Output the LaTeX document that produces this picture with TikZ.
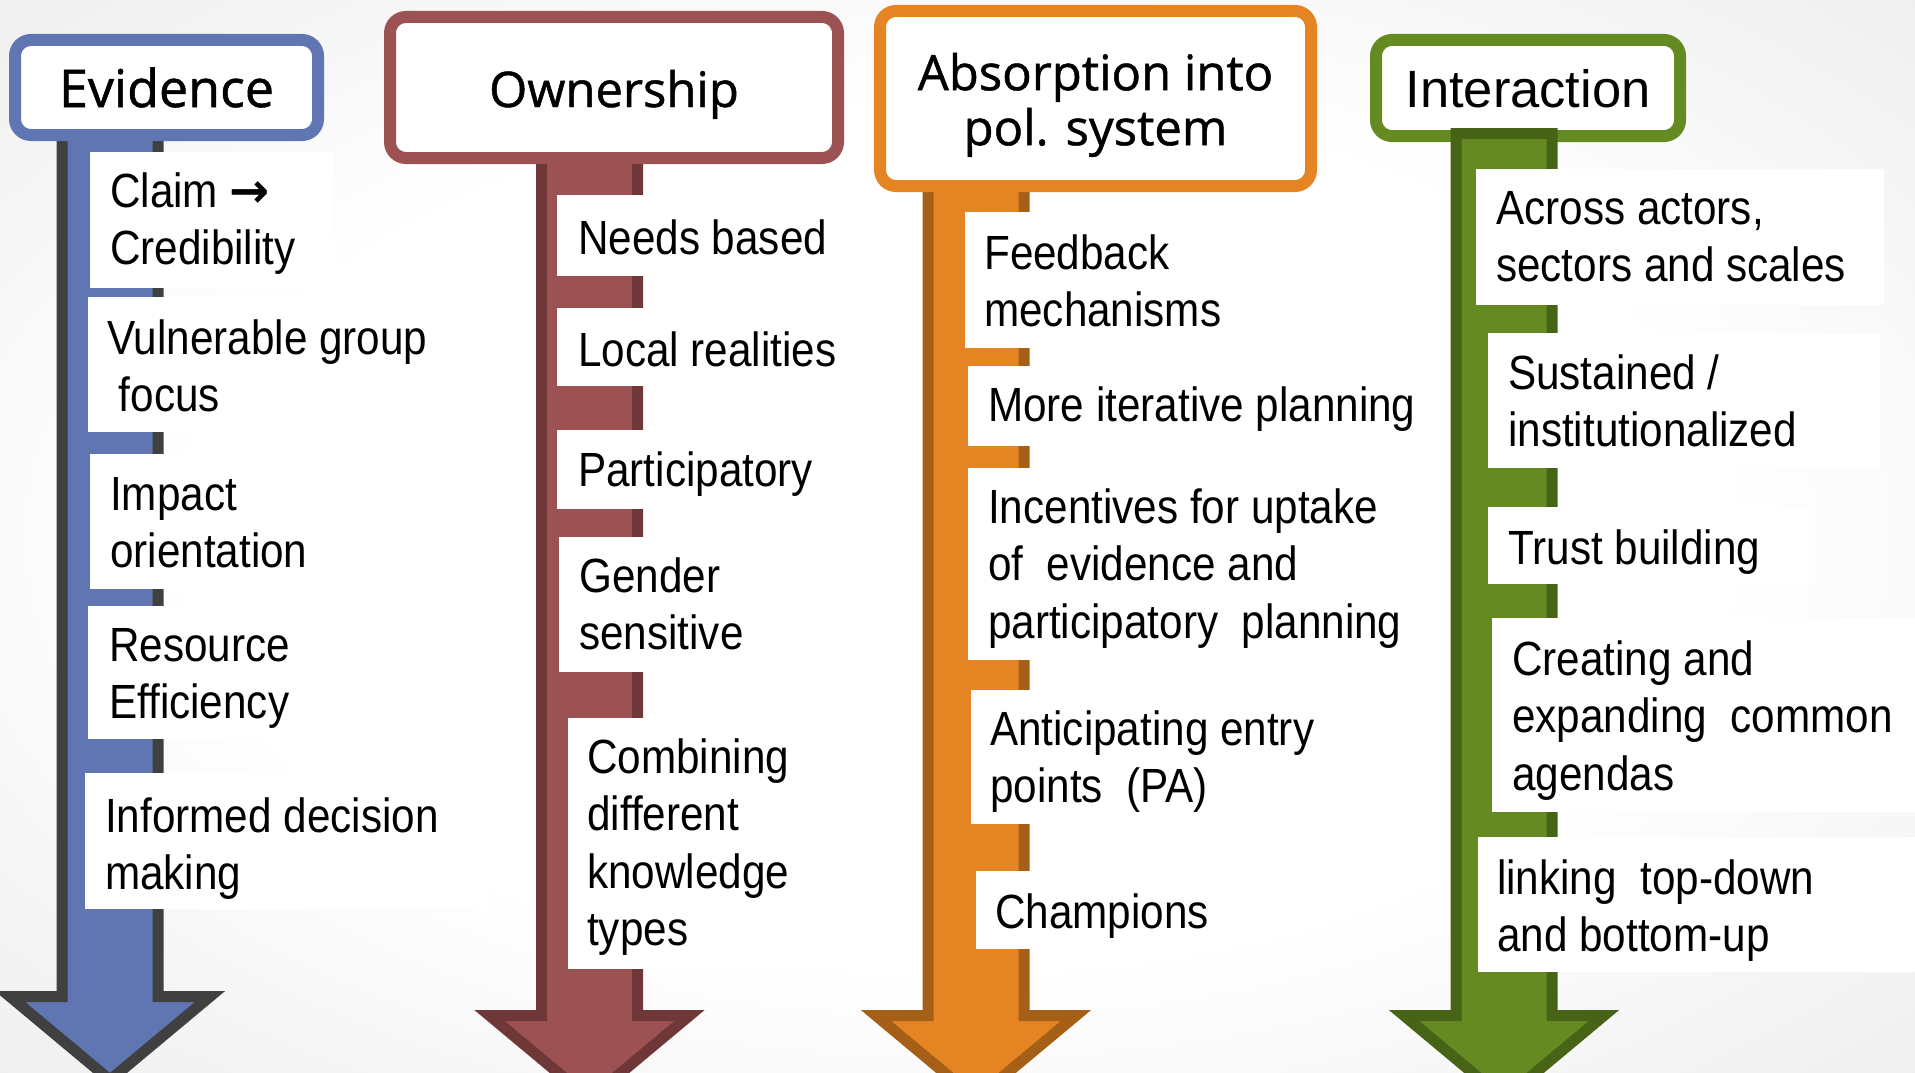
\documentclass[tikz,border=0pt]{standalone}
\usepackage{fontspec}
\setmainfont{Liberation Sans}
\newfontfamily\narrowfont[FakeStretch=0.88]{Liberation Sans}
\newfontfamily\headfont[FakeBold=1]{Open Sans}
\newfontfamily\headfontb{Liberation Sans}
\newfontfamily\arrowfont{DejaVu Sans}
\usetikzlibrary{calc}
\definecolor{evfill}{HTML}{5F76B3}
\definecolor{evline}{HTML}{404040}
\definecolor{owfill}{HTML}{9C5252}
\definecolor{owline}{HTML}{6F3737}
\definecolor{abfill}{HTML}{E58422}
\definecolor{abline}{HTML}{A65F17}
\definecolor{infill}{HTML}{668A22}
\definecolor{inline}{HTML}{476316}
\pgfdeclareradialshading{bgshade}{\pgfpoint{0bp}{0bp}}{color(0bp)=(white); color(20bp)=(white); color(50bp)=(black!12); color(72bp)=(black!22)}
\newcommand{\colarrow}[5]{%
  \draw[arrowstyle, fill=#4, draw=#5] (#1-48,#2) -- (#1-48,#3+5.5) -- (#1-100,#3+5.5) -- (#1,#3+89) -- (#1+100,#3+5.5) -- (#1+48,#3+5.5) -- (#1+48,#2) -- cycle;}
\begin{document}
\begin{tikzpicture}[x=1pt,y=-1pt,
  arrowstyle/.style={line width=11pt, line join=miter, miter limit=10},
  headbox/.style={rectangle, rounded corners=16pt, line width=12pt, fill=white, inner sep=0pt},
  headtext/.style={font=\headfont\fontsize{49}{55}\selectfont, inner sep=0pt, align=center},
  itembox/.style={rectangle, fill=white, draw=none, inner sep=0pt, anchor=north west},
  itemtext/.style={font=\narrowfont\fontsize{48}{57.5}\selectfont, inner sep=0pt, align=left, anchor=north west}]
\useasboundingbox (0,0) rectangle (1915,1073);
\clip (0,0) rectangle (1915,1073);
\shade[shading=bgshade] (0,0) rectangle (1915,1073);

% shafts behind header boxes
\colarrow{110}{120}{991}{evfill}{evline}
\colarrow{589.5}{150}{1010}{owfill}{owline}
\colarrow{976}{170}{1010}{abfill}{abline}

% header boxes
\node[headbox, draw=evfill, minimum width=303pt, minimum height=95pt] (hev) at (166.5,87.5) {};
\node[headbox, draw=owfill, minimum width=448pt, minimum height=141pt] (how) at (614,87.5) {};
\node[headbox, draw=abfill, minimum width=431pt, minimum height=175pt] (hab) at (1095.5,98.5) {};
\node[headbox, draw=infill, minimum width=304pt, minimum height=96pt] (hin) at (1528,88) {};

\node[headtext, anchor=base, font=\headfont\fontsize{52}{55}\selectfont] (tev) at (166.5,107) {Evidence};
\node[headtext, anchor=base] (tow) at (614,107) {Ownership};
\node[headtext, anchor=north] (tab) at (1095.5,51.5) {\strut Absorption into\\\strut pol. system};
\node[headtext, anchor=base, font=\headfontb\fontsize{52.5}{55}\selectfont] (tin) at (1528,107) {Interaction};

% interaction arrow on top of its box
\colarrow{1504}{133.5}{1010}{infill}{inline}

% Evidence items
\node[itembox, minimum width=243pt, minimum height=136pt] (e1) at (90,152) {};
\node[itemtext] (e1t) at (110,166.75) {\strut Claim {\arrowfont\bfseries →}\\\strut Credibility};
\node[itembox, minimum width=382pt, minimum height=135pt] (e2) at (88,297) {};
\node[itemtext] (e2t) at (107,313.75) {\strut Vulnerable group\\\strut\ focus};
\node[itembox, minimum width=245pt, minimum height=135pt] (e3) at (90,454) {};
\node[itemtext] (e3t) at (110,469.75) {\strut Impact\\\strut orientation};
\node[itembox, minimum width=312pt, minimum height=133pt] (e4) at (88,606) {};
\node[itemtext] (e4t) at (109,620.75) {\strut Resource\\\strut Efficiency};
\node[itembox, minimum width=405pt, minimum height=136pt] (e5) at (85,773) {};
\node[itemtext] (e5t) at (105,791.75) {\strut Informed decision\\\strut making};

% Ownership items
\node[itembox, minimum width=286pt, minimum height=81pt] (o1) at (557,195) {};
\node[itemtext] (o1t) at (578,213.75) {\strut Needs based};
\node[itembox, minimum width=303pt, minimum height=78pt] (o2) at (557,308) {};
\node[itemtext] (o2t) at (578,325.75) {\strut Local realities};
\node[itembox, minimum width=286pt, minimum height=79pt] (o3) at (557,430) {};
\node[itemtext] (o3t) at (578,445.75) {\strut Participatory};
\node[itembox, minimum width=223pt, minimum height=135pt] (o4) at (559,537) {};
\node[itemtext] (o4t) at (579,551.75) {\strut Gender\\\strut sensitive};
\node[itembox, minimum width=232pt, minimum height=251pt] (o5) at (568,718) {};
\node[itemtext] (o5t) at (587,732.75) {\strut Combining\\\strut different\\\strut knowledge\\\strut types};

% Absorption items
\node[itembox, minimum width=280pt, minimum height=136pt] (a1) at (965,212) {};
\node[itemtext] (a1t) at (984,228.75) {\strut Feedback\\\strut mechanisms};
\node[itembox, minimum width=457pt, minimum height=80pt] (a2) at (968,366) {};
\node[itemtext] (a2t) at (988,380.75) {\strut More iterative planning};
\node[itembox, minimum width=457pt, minimum height=192pt] (a3) at (968,468) {};
\node[itemtext] (a3t) at (988,482.75) {\strut Incentives for uptake\\\strut of\ \ evidence and\\\strut participatory\ \ planning};
\node[itembox, minimum width=374pt, minimum height=134pt] (a4) at (971,690) {};
\node[itemtext] (a4t) at (990,704.75) {\strut Anticipating entry\\\strut points\ \ (PA)};
\node[itembox, minimum width=249pt, minimum height=78pt] (a5) at (976,871) {};
\node[itemtext] (a5t) at (995,887.75) {\strut Champions};

% Interaction items
\node[itembox, minimum width=408pt, minimum height=136pt] (i1) at (1476,169) {};
\node[itemtext] (i1t) at (1496,183.75) {\strut Across actors,\\\strut sectors and scales};
\node[itembox, minimum width=392pt, minimum height=135pt] (i2) at (1488,333) {};
\node[itemtext] (i2t) at (1508,348.75) {\strut Sustained /\\\strut institutionalized};
\node[itembox, minimum width=320pt, minimum height=77pt] (i3) at (1488,507) {};
\node[itemtext] (i3t) at (1508,523.75) {\strut Trust building};
\node[itembox, minimum width=423pt, minimum height=194pt] (i4) at (1492,618) {};
\node[itemtext] (i4t) at (1512,634.75) {\strut Creating and\\\strut expanding\ \ common\\\strut agendas};
\node[itembox, minimum width=437pt, minimum height=135pt] (i5) at (1478,837) {};
\node[itemtext] (i5t) at (1497,853.75) {\strut linking\ \ top-down\\\strut and bottom-up};
\end{tikzpicture}
\end{document}
